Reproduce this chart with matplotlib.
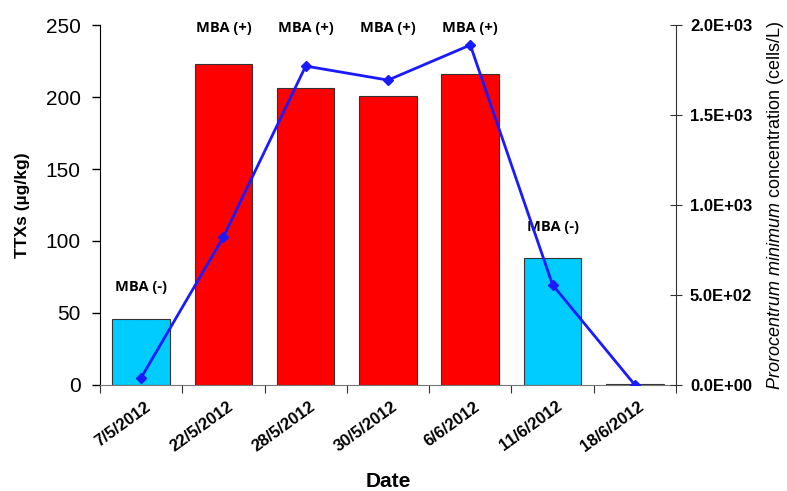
import numpy as np
import matplotlib.pyplot as plt

plt.rcParams["mathtext.fontset"] = "custom"
plt.rcParams["mathtext.it"] = "Liberation Sans:italic"
plt.rcParams["mathtext.rm"] = "Liberation Sans"

dates = ["7/5/2012", "22/5/2012", "28/5/2012", "30/5/2012",
         "6/6/2012", "11/6/2012", "18/6/2012"]
ttx = [46, 223, 206, 201, 216, 88, 0.6]
mba = ["MBA (-)", "MBA (+)", "MBA (+)", "MBA (+)", "MBA (+)", "MBA (-)", ""]
cells = [40, 822, 1772, 1694, 1889, 556, 0]

RED = "#FF0000"
CYAN = "#00CCFF"
LINE = "#1A1AFF"

x = np.arange(len(dates))
colors = [RED if m == "MBA (+)" else CYAN for m in mba]
colors[-1] = "black"

fig = plt.figure(figsize=(7.87, 4.91), dpi=100)
ax = fig.add_axes([0.127, 0.216, 0.732, 0.733])

ax.bar(x, ttx, width=0.7, color=colors, edgecolor="#333333", linewidth=0.8, zorder=2)
ax.set_xlim(-0.5, len(dates) - 0.5)
ax.set_ylim(0, 250)
ax.set_yticks([0, 50, 100, 150, 200, 250])
ax.tick_params(axis="y", direction="out", length=6, labelsize=15, width=1, pad=8)
for lab in ax.get_yticklabels():
    lab.set_family("Liberation Sans")

# category separators as major ticks, date labels on minor ticks
ax.set_xticks(np.append(x - 0.5, len(dates) - 0.5))
ax.set_xticklabels([])
ax.set_xticks(x + 0.04, minor=True)
ax.set_xticklabels(dates, minor=True, rotation=36, ha="right", rotation_mode="anchor",
                   fontsize=12, fontweight="bold", family="Liberation Sans")
ax.tick_params(axis="x", which="major", direction="out", length=6, color="#333333")
ax.tick_params(axis="x", which="minor", length=0, pad=10)

ax.spines["top"].set_visible(False)
ax.spines["right"].set_visible(False)
ax.spines["bottom"].set_color("#777777")

ax.set_ylabel("TTXs (µg/kg)", fontsize=12.5, fontweight="bold", family="Liberation Sans",
              labelpad=11)
ax.set_xlabel("Date", fontsize=15, fontweight="bold", family="Liberation Sans", labelpad=13)

# MBA labels
for i, m in enumerate(mba):
    if not m:
        continue
    if m == "MBA (+)":
        y = 248
    else:
        y = ttx[i] + 22
    ax.text(x[i], y, m, ha="center", va="center", fontsize=10.5, fontweight="bold",
            family="Open Sans")

ax2 = ax.twinx()
ax2.plot(x, cells, color=LINE, lw=2, marker="D", markersize=5, zorder=3)
ax2.set_ylim(0, 2000)
ax2.set_yticks([0, 500, 1000, 1500, 2000])
ax2.set_yticklabels(["0.0E+00", "5.0E+02", "1.0E+03", "1.5E+03", "2.0E+03"],
                    fontsize=12, fontweight="bold", family="Liberation Sans")
ax2.tick_params(axis="y", direction="inout", length=8, color="#333333", pad=6)
ax2.spines["top"].set_visible(False)
ax2.spines["left"].set_visible(False)
ax2.spines["bottom"].set_visible(False)
ax2.spines["right"].set_color("#333333")
ax2.set_ylabel(r"$\it{Prorocentrum\ minimum}$ concentration (cells/L)",
               fontsize=13, family="Liberation Sans", labelpad=9)

plt.savefig("out.png", dpi=100)
